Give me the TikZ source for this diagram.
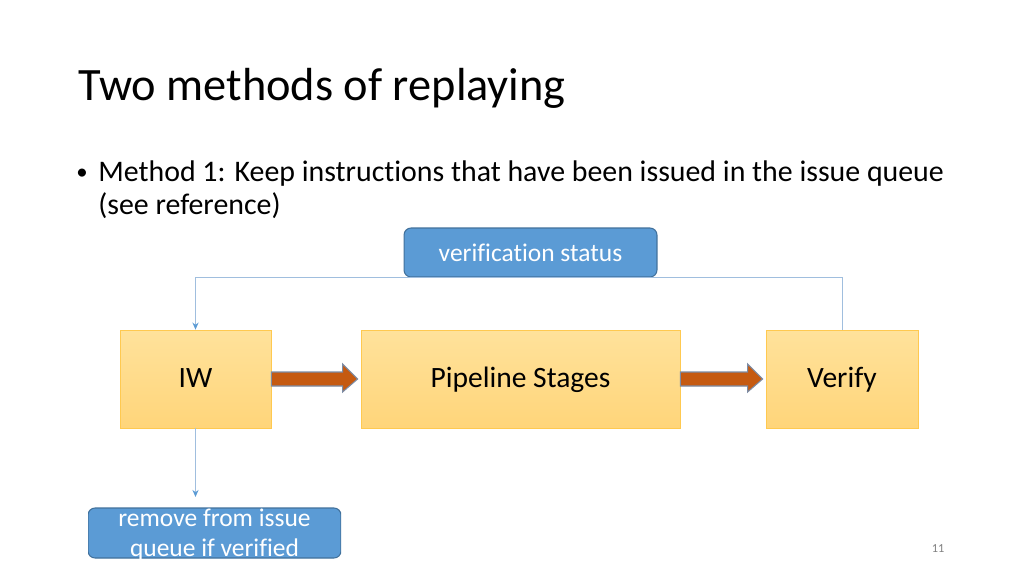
\documentclass[tikz,border=0pt]{standalone}
\usepackage{fontspec}
\setmainfont[Ligatures=NoCommon]{Carlito}
\usetikzlibrary{calc,arrows.meta}
\definecolor{boxtop}{RGB}{255,226,155}
\definecolor{boxbot}{RGB}{255,213,122}
\definecolor{boxline}{RGB}{255,201,80}
\definecolor{bluefill}{RGB}{91,155,213}
\definecolor{blueline}{RGB}{65,113,156}
\definecolor{fatfill}{RGB}{197,90,17}
\definecolor{fatline}{RGB}{124,140,165}
\definecolor{wire}{RGB}{160,190,222}
\definecolor{wiretip}{RGB}{91,155,213}
\tikzset{
	stagebox/.style={draw=boxline,line width=0.5pt,top color=boxtop,bottom color=boxbot,
		minimum height=1.96cm,text height=2.3ex,text depth=0.2ex,font=\fontsize{16.8}{20}\selectfont},
	notebox/.style={draw=blueline,line width=0.6pt,fill=bluefill,rounded corners=4pt,
		text=white,font=\fontsize{14.5}{17}\selectfont,align=center},
	wireline/.style={draw=wire,line width=0.5pt},
	fatarrow/.style={draw=fatline,fill=fatfill,line width=0.6pt,line join=miter}
}
\begin{document}
\begin{tikzpicture}[
	x=0.02cm,
	y=-0.02cm,
	>={Stealth[length=4pt,width=3.5pt,color=wiretip]}
	]
	\useasboundingbox[fill=white] (0,0) rectangle (1024,576);
	% title and bullet
	\node[anchor=base west,inner sep=0pt,font=\fontsize{26.4}{31}\selectfont] (title) at (78,100) {Two methods of replaying};
	\node[anchor=base west,inner sep=0pt,font=\fontsize{13}{16}\selectfont] (dot) at (76,179) {\textbullet};
	\node[anchor=base west,inner sep=0pt,font=\fontsize{17}{20}\selectfont] (line1) at (98,181) {Method 1: Keep instructions that have been issued in the issue queue};
	\node[anchor=base west,inner sep=0pt,font=\fontsize{17}{20}\selectfont] (line2) at (98,214) {(see reference)};
	% stages
	\node[stagebox,minimum width=3.02cm] (iw) at (195.5,379) {IW};
	\node[stagebox,minimum width=6.38cm] (pipe) at (520.5,379) {Pipeline Stages};
	\node[stagebox,minimum width=3.04cm] (verify) at (842,379) {Verify};
	\node[notebox,minimum width=5.06cm,minimum height=0.98cm] (status) at (530.5,252.5) {verification status};
	\begin{scope}
		\clip (88,0) rectangle (341,558);
		\node[notebox,minimum width=5.06cm,minimum height=1.0cm] (remove) at (214.5,533) {};
		\node[text=white,font=\fontsize{14.5}{17}\selectfont,align=center] (removetext) at (214.5,535) {remove from issue\\queue if verified};
	\end{scope}
	% block arrows
	\foreach \a/\b in {iw/pipe,pipe/verify} {
		\draw[fatarrow] ($(\a.east)+(0,-7)$) -- ($(\b.west)+(-18,-7)$) -- ($(\b.west)+(-18,-15)$)
			-- ($(\b.west)+(-3,0)$) -- ($(\b.west)+(-18,13)$) -- ($(\b.west)+(-18,7)$)
			-- ($(\a.east)+(0,7)$) -- cycle;
	}
	% feedback wires
	\coordinate (upright) at (verify.north |- status.south);
	\coordinate (upleft) at (iw.north |- status.south);
	\draw[wireline,->] (verify.north) -- (upright) -- (upleft) -- (iw.north);
	\draw[wireline,->,shorten >=6pt] (iw.south) -- (remove.north -| iw.south);
	% page number
	\node[text=gray,font=\fontsize{7}{8}\selectfont] (page) at (938,549) {11};
\end{tikzpicture}
\end{document}
